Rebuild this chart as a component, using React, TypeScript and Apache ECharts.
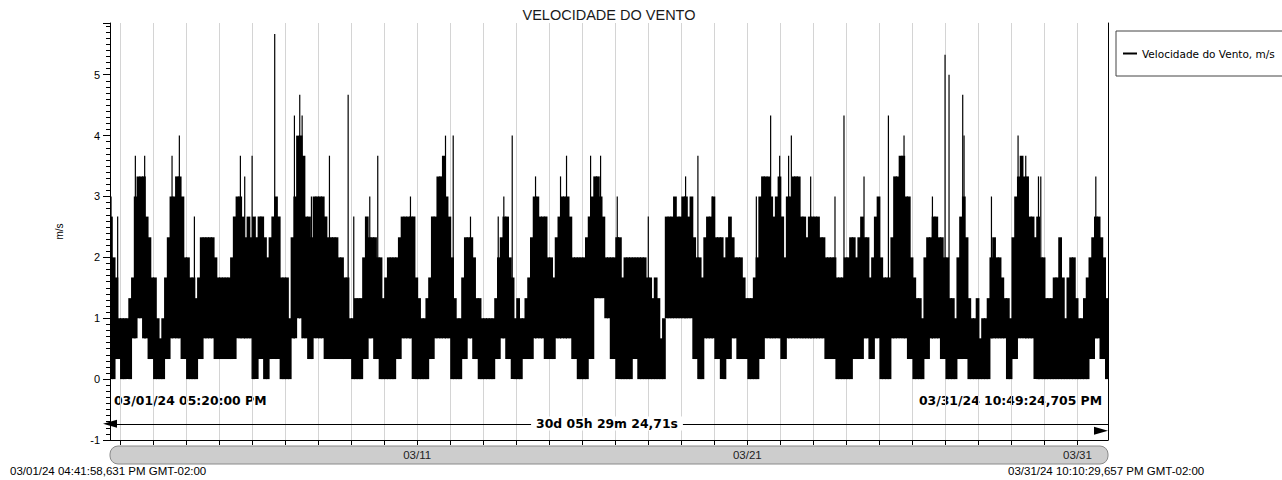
import React, { useEffect, useRef } from 'react';
import * as echarts from 'echarts';

const TITLE = 'VELOCIDADE DO VENTO';
const SERIES_NAME = 'Velocidade do Vento, m/s';
const Y_NAME = 'm/s';
const AXIS_START = '2024-03-01 16:41:58.631';
const AXIS_END = '2024-03-31 22:10:29.657';
const START_LABEL = '03/01/24 04:41:58,631 PM GMT-02:00';
const END_LABEL = '03/31/24 10:10:29,657 PM GMT-02:00';
const MARK_FROM = '03/01/24 05:20:00 PM';
const MARK_TO = '03/31/24 10:49:24,705 PM';
const MARK_SPAN = '30d 05h 29m 24,71s';
const MARK_LEVEL = -0.735;
const X_LABEL_DAYS = [11, 21, 31];
const Y_MIN = -1;
const Y_MAX = 5.85;

// Envelope of the dense trace. Bins start 03/01 16:00.
// High values: 2-hour bins. Low values: 4-hour bins.
const BIN_ORIGIN = '2024-03-01 16:00:00.000';
const HI_BIN_HOURS = 2;
const LO_BIN_HOURS = 4;
const binHigh = [
  2.67, 2.0, 1.67, 1.0, // 03/01
  1.0, 1.0, 1.0, 1.33, 1.67, 3.0, 3.33, 3.33, 3.33, 2.67, 2.33, 1.67, // 03/02
  1.67, 1.0, 0.67, 1.0, 1.67, 2.33, 3.0, 3.0, 3.33, 3.33, 3.0, 2.0, // 03/03
  2.0, 1.67, 1.67, 1.33, 1.67, 2.33, 2.33, 2.33, 2.33, 2.33, 2.0, 1.67, // 03/04
  1.67, 1.67, 1.67, 1.67, 2.0, 2.67, 3.0, 3.0, 2.67, 2.33, 2.67, 2.33, // 03/05
  2.67, 2.33, 2.67, 2.67, 2.33, 2.0, 2.33, 2.67, 3.0, 2.67, 1.67, 1.67, // 03/06
  1.67, 1.0, 2.33, 3.0, 4.0, 4.0, 3.67, 2.67, 2.67, 2.33, 3.0, 3.0, // 03/07
  3.0, 3.0, 2.67, 2.33, 2.33, 2.33, 2.33, 2.0, 2.0, 1.67, 1.67, 1.0, // 03/08
  1.0, 1.33, 1.33, 1.33, 2.0, 2.67, 2.33, 2.33, 2.33, 2.0, 2.0, 1.33, // 03/09
  1.67, 2.0, 2.0, 2.0, 2.0, 2.33, 2.67, 2.67, 2.67, 2.67, 2.67, 1.67, // 03/10
  1.33, 1.0, 1.0, 1.33, 1.67, 2.67, 2.67, 3.33, 3.33, 3.67, 3.0, 2.67, // 03/11
  2.0, 1.33, 1.0, 1.0, 1.67, 2.33, 2.33, 2.33, 2.0, 1.33, 1.33, 1.0, // 03/12
  1.0, 1.0, 1.0, 1.0, 1.33, 2.0, 2.33, 2.67, 2.67, 2.0, 1.67, 1.0, // 03/13
  1.33, 1.0, 1.0, 1.33, 1.67, 2.33, 3.0, 3.0, 2.67, 2.67, 2.67, 2.0, // 03/14
  2.0, 1.67, 2.33, 2.67, 3.0, 3.0, 3.0, 2.67, 2.0, 2.0, 2.0, 2.0, // 03/15
  2.0, 2.33, 2.67, 3.0, 3.33, 3.33, 3.0, 2.67, 2.0, 2.0, 2.0, 2.0, // 03/16
  2.33, 2.33, 1.67, 2.0, 2.0, 2.0, 2.0, 2.0, 2.0, 2.0, 2.0, 1.67, // 03/17
  1.67, 1.33, 1.67, 1.33, 0.67, 1.0, 2.67, 2.67, 2.67, 3.0, 2.67, 2.67, // 03/18
  3.0, 3.0, 2.67, 3.0, 2.33, 2.0, 2.0, 1.67, 2.33, 2.67, 2.67, 3.0, // 03/19
  2.33, 2.33, 2.33, 2.0, 2.33, 2.67, 2.33, 2.0, 2.0, 2.0, 1.67, 1.33, // 03/20
  1.33, 1.33, 1.67, 2.0, 3.0, 3.33, 3.33, 3.33, 3.0, 2.67, 3.0, 3.33, // 03/21
  2.67, 2.0, 3.0, 3.0, 3.33, 3.33, 3.33, 2.67, 2.67, 2.33, 2.67, 2.67, // 03/22
  2.67, 2.67, 2.33, 2.33, 2.0, 2.0, 2.0, 2.0, 1.67, 1.67, 1.67, 2.0, // 03/23
  2.0, 2.33, 2.33, 2.0, 2.33, 2.67, 2.33, 2.33, 1.67, 2.0, 2.67, 3.0, // 03/24
  2.0, 1.67, 1.67, 1.67, 2.33, 3.33, 3.33, 3.67, 3.67, 3.0, 3.0, 2.0, // 03/25
  1.67, 1.33, 1.33, 1.0, 2.0, 2.33, 2.33, 2.67, 2.67, 2.33, 2.33, 2.0, // 03/26
  2.0, 1.33, 1.33, 1.0, 2.0, 2.67, 3.0, 2.33, 1.33, 1.0, 1.0, 1.33, // 03/27
  0.67, 1.0, 1.0, 1.33, 2.0, 2.33, 2.0, 2.0, 1.67, 1.33, 1.33, 1.0, // 03/28
  2.33, 3.0, 3.33, 3.67, 3.33, 3.33, 2.67, 2.67, 2.33, 2.67, 2.0, 2.0, // 03/29
  1.33, 1.33, 1.33, 1.67, 1.67, 2.33, 1.67, 1.0, 1.67, 2.0, 2.0, 1.33, // 03/30
  1.0, 1.0, 1.33, 1.67, 2.0, 2.33, 2.67, 2.67, 2.33, 2.0, 1.33, 1.33, // 03/31
];
const binLow = [
  0, 0.33, // 03/01
  0, 0, 0.67, 1.0, 0.67, 0.33, // 03/02
  0, 0, 0.33, 0.67, 0.67, 0.33, // 03/03
  0, 0, 0.33, 0.67, 0.67, 0.33, // 03/04
  0.33, 0.33, 0.33, 0.67, 0.67, 0.67, // 03/05
  0, 0.33, 0, 0.33, 0.33, 0, // 03/06
  0, 0.67, 1.0, 0.67, 0.33, 0.67, // 03/07
  0.67, 0.33, 0.33, 0.33, 0.33, 0.33, // 03/08
  0, 0, 0.33, 0.67, 0.33, 0, // 03/09
  0, 0, 0.33, 0.67, 0.67, 0, // 03/10
  0, 0, 0.33, 0.67, 0.67, 0.67, // 03/11
  0, 0, 0.33, 0.67, 0.33, 0, // 03/12
  0, 0, 0.33, 0.67, 0.33, 0, // 03/13
  0, 0.33, 0.33, 0.67, 0.67, 0.33, // 03/14
  0.33, 0.67, 0.67, 0.67, 0.33, 0, // 03/15
  0, 0.33, 1.33, 1.33, 1.0, 0.33, // 03/16
  0, 0, 0, 0.33, 0, 0, // 03/17
  0, 0, 0, 1.0, 1.0, 1.0, // 03/18
  1.0, 1.0, 0.33, 0, 0.67, 0.67, // 03/19
  0.33, 0, 0.33, 0.67, 0.33, 0.33, // 03/20
  0, 0, 0.33, 0.67, 0.67, 0.67, // 03/21
  0.33, 0.67, 0.67, 0.67, 0.67, 0.67, // 03/22
  0.67, 0.67, 0.33, 0.33, 0, 0, // 03/23
  0, 0.33, 0.33, 0.67, 0.33, 0.67, // 03/24
  0, 0, 0.67, 0.67, 0.67, 0.33, // 03/25
  0, 0, 0.33, 0.67, 0.67, 0.33, // 03/26
  0, 0, 0.33, 0.33, 0, 0, // 03/27
  0, 0, 0.67, 0.67, 0.67, 0, // 03/28
  0.33, 0.67, 0.67, 0.67, 0, 0, // 03/29
  0, 0, 0, 0, 0, 0, // 03/30
  0, 0, 0.33, 0.67, 0.33, 0, // 03/31
];

// Isolated peaks that rise above the envelope
const spikeTimes = [
  '03-01 17:27', '03-01 22:16', '03-02 11:08', '03-02 17:54', '03-03 13:48', '03-03 19:07',
  '03-04 06:03', '03-05 15:29', '03-05 18:38', '03-06 00:00', '03-06 16:26', '03-07 06:46',
  '03-07 10:38', '03-07 12:22', '03-07 19:07', '03-08 08:13', '03-08 21:49', '03-09 01:54',
  '03-09 13:32', '03-09 19:20', '03-10 19:07', '03-11 20:35', '03-12 02:11', '03-12 14:45',
  '03-13 10:55', '03-13 14:59', '03-13 21:05', '03-14 14:02', '03-15 08:12', '03-15 12:34',
  '03-16 06:03', '03-16 13:19', '03-17 01:26', '03-18 00:00', '03-19 03:07', '03-19 12:04',
  '03-19 22:32', '03-21 06:33', '03-21 16:56', '03-21 23:30', '03-22 06:00', '03-22 08:00',
  '03-22 22:02', '03-23 15:43', '03-23 22:15', '03-24 12:49', '03-25 06:33', '03-25 17:54',
  '03-26 14:33', '03-26 23:43', '03-27 02:37', '03-27 12:34', '03-27 13:32', '03-28 09:27',
  '03-29 04:48', '03-29 10:23', '03-29 19:38', '03-29 21:19', '03-31 13:19',
];
const spikeValues = [
  3.0, 2.67, 3.67, 3.67, 3.67, 4.0,
  2.67, 3.67, 3.33, 3.67, 5.67, 4.33,
  4.67, 4.33, 3.0, 3.67, 4.67, 2.67,
  3.0, 3.67, 3.0, 4.0, 4.0, 2.67,
  2.67, 3.0, 4.0, 3.33, 3.33, 3.67,
  3.67, 3.67, 3.0, 2.67, 3.33, 3.67,
  3.0, 3.0, 4.33, 3.67, 3.67, 4.0,
  3.33, 3.0, 4.33, 3.33, 4.33, 4.0,
  3.0, 5.33, 5.0, 4.67, 4.0, 3.0,
  4.0, 3.67, 3.33, 3.33, 3.33,
];

const HOUR = 3600 * 1000;
const DAY = 24 * HOUR;

function parseFull(s: string): number {
  const m = s.match(/(\d+)-(\d+)-(\d+) (\d+):(\d+):(\d+)\.(\d+)/)!;
  return Date.UTC(+m[1], +m[2] - 1, +m[3], +m[4], +m[5], +m[6], +m[7]);
}
function parseShort(s: string): number {
  const m = s.match(/(\d+)-(\d+) (\d+):(\d+)/)!;
  return Date.UTC(2024, +m[1] - 1, +m[2], +m[3], +m[4]);
}

const tMin = parseFull(AXIS_START);
const tMax = parseFull(AXIS_END);
const tOrigin = parseFull(BIN_ORIGIN);

function lowAt(t: number): number {
  const k = Math.floor((t - tOrigin) / (LO_BIN_HOURS * HOUR));
  return binLow[Math.min(binLow.length - 1, Math.max(0, k))];
}

function buildEnvelope() {
  const out: number[][] = [];
  binHigh.forEach((hi, k) => {
    const a = tOrigin + k * HI_BIN_HOURS * HOUR;
    const t0 = Math.max(a, tMin);
    const t1 = Math.min(a + HI_BIN_HOURS * HOUR, tMax);
    if (t1 > t0) out.push([t0, t1, lowAt(a), hi]);
  });
  return out;
}
function buildSpikes() {
  return spikeTimes.map((s, i) => {
    const t = parseShort(s);
    return [t, lowAt(t), spikeValues[i]];
  });
}

const SANS = 'Liberation Sans';
const BOLD = 'DejaVu Sans';

export default function App() {
  const ref = useRef<HTMLDivElement>(null);
  useEffect(() => {
    if (!ref.current) return;
    const chart = echarts.init(ref.current, null, { renderer: 'svg' });
    const option: any = {
      animation: false,
      useUTC: true,
      backgroundColor: '#ffffff',
      title: {
        text: TITLE,
        left: 609,
        top: 7,
        textAlign: 'center',
        padding: 0,
        textStyle: { fontFamily: SANS, fontSize: 14.5, fontWeight: 'normal', color: '#1a1a1a' },
      },
      legend: {
        show: true,
        left: 1116,
        top: 31,
        orient: 'vertical',
        padding: [17, 8, 17, 7],
        borderColor: '#444',
        borderWidth: 1,
        borderRadius: 0,
        itemWidth: 14,
        itemHeight: 2,
        selectedMode: false,
        data: [{ name: SERIES_NAME, icon: 'rect' }],
        textStyle: { fontFamily: BOLD, fontSize: 10.5, color: '#000' },
      },
      grid: { left: 110, right: 174, top: 23, bottom: 40, containLabel: false, outerBoundsMode: 'none' },
      xAxis: {
        type: 'time',
        min: tMin,
        max: tMax,
        minInterval: DAY,
        maxInterval: DAY,
        axisLine: { show: true, onZero: false, lineStyle: { color: '#000', width: 1 } },
        axisTick: { show: true, length: 5, lineStyle: { color: '#000' } },
        minorTick: { show: false },
        axisLabel: {
          show: true,
          interval: 0,
          hideOverlap: false,
          margin: 9,
          fontFamily: SANS,
          fontSize: 11.5,
          color: '#222',
          showMinLabel: false,
          showMaxLabel: false,
          formatter: (val: number) => {
            const d = new Date(val);
            const day = d.getUTCDate();
            if (d.getUTCHours() === 0 && d.getUTCMinutes() === 0 && X_LABEL_DAYS.indexOf(day) >= 0) {
              const mm = String(d.getUTCMonth() + 1).padStart(2, '0');
              return mm + '/' + String(day).padStart(2, '0');
            }
            return '';
          },
        },
        splitLine: { show: true, lineStyle: { color: '#d4d4d4', width: 1 } },
      },
      yAxis: [
        {
          type: 'value',
          min: Y_MIN,
          max: Y_MAX,
          interval: 1,
          name: Y_NAME,
          nameLocation: 'middle',
          nameGap: 46,
          nameRotate: 90,
          nameTextStyle: { fontFamily: SANS, fontSize: 10, color: '#000' },
          axisLine: { show: true, lineStyle: { color: '#000', width: 1 } },
          axisTick: { show: true, length: 7, lineStyle: { color: '#000' } },
          minorTick: { show: true, splitNumber: 10, length: 4, lineStyle: { color: '#000' } },
          axisLabel: { show: true, margin: 10, fontFamily: SANS, fontSize: 11, color: '#000', showMaxLabel: false },
          splitLine: { show: false },
          minorSplitLine: { show: false },
        },
        {
          type: 'value',
          position: 'right',
          min: Y_MIN,
          max: Y_MAX,
          interval: 1,
          axisLine: { show: true, lineStyle: { color: '#000', width: 1 } },
          axisTick: { show: false },
          axisLabel: { show: false },
          splitLine: { show: false },
        },
      ],
      series: [
        {
          name: SERIES_NAME,
          type: 'custom',
          clip: true,
          itemStyle: { color: '#000' },
          encode: { x: [0, 1], y: [2, 3] },
          data: buildEnvelope(),
          renderItem: (params: any, api: any) => {
            const p0 = api.coord([api.value(0), api.value(3)]);
            const p1 = api.coord([api.value(1), api.value(2)]);
            return {
              type: 'rect',
              shape: { x: p0[0], y: p0[1], width: p1[0] - p0[0] + 1, height: p1[1] - p0[1] },
              style: { fill: '#000' },
            };
          },
          markLine: {
            silent: true,
            symbol: ['triangle', 'triangle'],
            symbolSize: [8, 14],
            symbolOffset: [0, 7],
            lineStyle: { color: '#000', width: 1, type: 'solid' },
            label: { show: false },
            data: [[{ coord: [tMin, MARK_LEVEL] }, { coord: [tMax, MARK_LEVEL] }]],
          },
        },
        {
          name: SERIES_NAME,
          type: 'custom',
          clip: true,
          itemStyle: { color: '#000' },
          encode: { x: 0, y: [1, 2] },
          data: buildSpikes(),
          renderItem: (params: any, api: any) => {
            const top = api.coord([api.value(0), api.value(2)]);
            const base = api.coord([api.value(0), api.value(1)]);
            return {
              type: 'rect',
              shape: { x: top[0] - 0.6, y: top[1], width: 1.2, height: base[1] - top[1] },
              style: { fill: '#000' },
            };
          },
        },
      ],
      graphic: [
        {
          type: 'rect',
          z: -1,
          shape: { x: 110, y: 446, width: 998, height: 18, r: 8 },
          style: { fill: '#cdcdcd', stroke: '#8a8a8a', lineWidth: 1 },
        },
        {
          type: 'text',
          x: 10,
          y: 470.5,
          style: { text: START_LABEL, fontFamily: SANS, fontSize: 11.5, fill: '#000', align: 'left', verticalAlign: 'middle' },
        },
        {
          type: 'text',
          x: 1008,
          y: 471,
          style: { text: END_LABEL, fontFamily: SANS, fontSize: 11.5, fill: '#000', align: 'left', verticalAlign: 'middle' },
        },
        {
          type: 'text',
          x: 114,
          y: 400,
          style: { text: MARK_FROM, fontFamily: BOLD, fontWeight: 'bold', fontSize: 12.4, fill: '#000', align: 'left', verticalAlign: 'middle' },
        },
        {
          type: 'text',
          x: 1102,
          y: 400,
          style: { text: MARK_TO, fontFamily: BOLD, fontWeight: 'bold', fontSize: 12.4, fill: '#000', align: 'right', verticalAlign: 'middle' },
        },
        {
          type: 'text',
          x: 607,
          y: 423.5,
          z: 10,
          style: {
            text: MARK_SPAN,
            fontFamily: BOLD,
            fontWeight: 'bold',
            fontSize: 12.4,
            fill: '#000',
            align: 'center',
            verticalAlign: 'middle',
            backgroundColor: '#fff',
            padding: [1, 5],
          },
        },
      ],
    };
    chart.setOption(option);
    return () => chart.dispose();
  }, []);
  return (
    <div
      ref={ref}
      style={{ position: 'absolute', left: 0, top: 0, width: 1282, height: 480, background: '#fff' }}
    />
  );
}
